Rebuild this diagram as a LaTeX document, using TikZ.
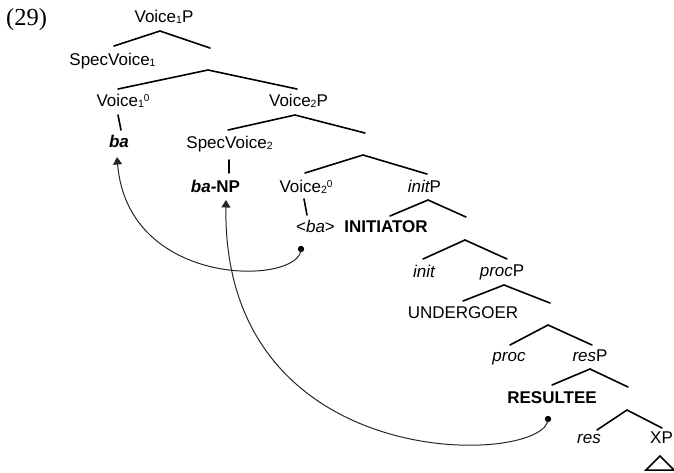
\documentclass[tikz,border=0pt]{standalone}
\usepackage{fontspec}
\setmainfont{Liberation Serif}
\newfontfamily\treefont{Liberation Sans}
\usetikzlibrary{arrows.meta}

% small index digits, set close to the baseline as in the tree labels
\newcommand{\tsub}[1]{\raisebox{-1pt}{\fontsize{10.5}{11}\selectfont #1}}
\newcommand{\tsup}[1]{\raisebox{5pt}{\fontsize{10}{11}\selectfont #1}}

\tikzset{
  lbl/.style={font=\treefont\fontsize{17}{20}\selectfont, inner sep=0pt, anchor=base},
  branch/.style={line width=1.6pt, line cap=round},
  movement/.style={line width=1pt, draw=black!85},
  trace/.style={fill=black, draw=none},
  movearrow/.style={movement, -{Triangle[width=9pt,length=7.5pt]}},
}

\begin{document}
\begin{tikzpicture}[x=1pt, y=-1pt]
\useasboundingbox (0,0) rectangle (674,472);

% example number
\node[inner sep=0pt, anchor=base, font=\fontsize{24.5}{28}\selectfont] (exnum) at (26.5,25) {(29)};

% labels
\node[lbl] (v1p)   at (164,22)   {Voice\tsub{1}P};
\node[lbl] (spec1) at (112.5,65) {SpecVoice\tsub{1}};
\node[lbl] (v1h)   at (123,106)  {Voice\tsub{1}\tsup{0}};
\node[lbl] (v2p)   at (298.5,106){Voice\tsub{2}P};
\node[lbl] (ba)    at (119,147)  {\bfseries\itshape ba};
\node[lbl] (spec2) at (229.5,148){SpecVoice\tsub{2}};
\node[lbl] (banp)  at (215.5,192){\bfseries\itshape ba\upshape -NP};
\node[lbl] (v2h)   at (306,192)  {Voice\tsub{2}\tsup{0}};
\node[lbl] (initp) at (424.5,192){\itshape init\upshape P};
\node[lbl] (bacopy) at (315.5,232){<\itshape ba\upshape >};
\node[lbl] (initiator) at (386,232){\bfseries INITIATOR};
\node[lbl] (init)  at (424,277)  {\itshape init};
\node[lbl] (procp) at (502,276)  {\itshape proc\upshape P};
\node[lbl] (undergoer) at (463,318){UNDERGOER};
\node[lbl] (proc)  at (509,361)  {\itshape proc};
\node[lbl] (resp)  at (590,361)  {\itshape res\upshape P};
\node[lbl] (resultee) at (552,403){\bfseries RESULTEE};
\node[lbl] (res)   at (589,443)  {\itshape res};
\node[lbl] (xp)    at (661.5,443){XP};

% branching points and leg ends
\coordinate (a1) at (160,31);  \coordinate (a1l) at (114,46);  \coordinate (a1r) at (210,48);
\coordinate (a2) at (208,70);  \coordinate (a2l) at (118,89);  \coordinate (a2r) at (297,89);
\coordinate (a3) at (295,115); \coordinate (a3l) at (228,130); \coordinate (a3r) at (365,133);
\coordinate (a4) at (363,155); \coordinate (a4l) at (305,173); \coordinate (a4r) at (427,174);
\coordinate (a5) at (428,200); \coordinate (a5l) at (390,216); \coordinate (a5r) at (466,217);
\coordinate (a6) at (465,240); \coordinate (a6l) at (423,259); \coordinate (a6r) at (507,259);
\coordinate (a7) at (504,285); \coordinate (a7l) at (463,301); \coordinate (a7r) at (550,303);
\coordinate (a8) at (548,325); \coordinate (a8l) at (510,345); \coordinate (a8r) at (592,345);
\coordinate (a9) at (590,369); \coordinate (a9l) at (552,385); \coordinate (a9r) at (628,387);
\coordinate (a10) at (627,410);\coordinate (a10l) at (597,430);\coordinate (a10r) at (662,428);

% unary branches
\coordinate (u1t) at (118,115); \coordinate (u1b) at (121,130);
\coordinate (u2t) at (229,160); \coordinate (u2b) at (229,173);
\coordinate (u3t) at (304,199); \coordinate (u3b) at (307,215);

\foreach \n in {a1,a2,a3,a4,a5,a6,a7,a8,a9,a10}
  \draw[branch] (\n l) -- (\n) -- (\n r);
\foreach \n in {u1,u2,u3}
  \draw[branch] (\n t) -- (\n b);

% triangle under XP
\coordinate (tri) at (660,456);
\draw[line width=1.5pt, line join=miter] (tri) -- (646,470) -- (674,470) -- cycle;

% movement arrows
\coordinate (t1) at (301,249);
\coordinate (t2) at (548,419);
\coordinate (h1) at (117,157);
\coordinate (h2) at (226,200);
\fill[trace] (t1) circle (3.2);
\fill[trace] (t2) circle (3.2);
\draw[movearrow] (t1) .. controls (301,285) and (128,290) .. (h1);
\draw[movearrow] (t2) .. controls (548,465) and (222,480) .. (h2);
\end{tikzpicture}
\end{document}
